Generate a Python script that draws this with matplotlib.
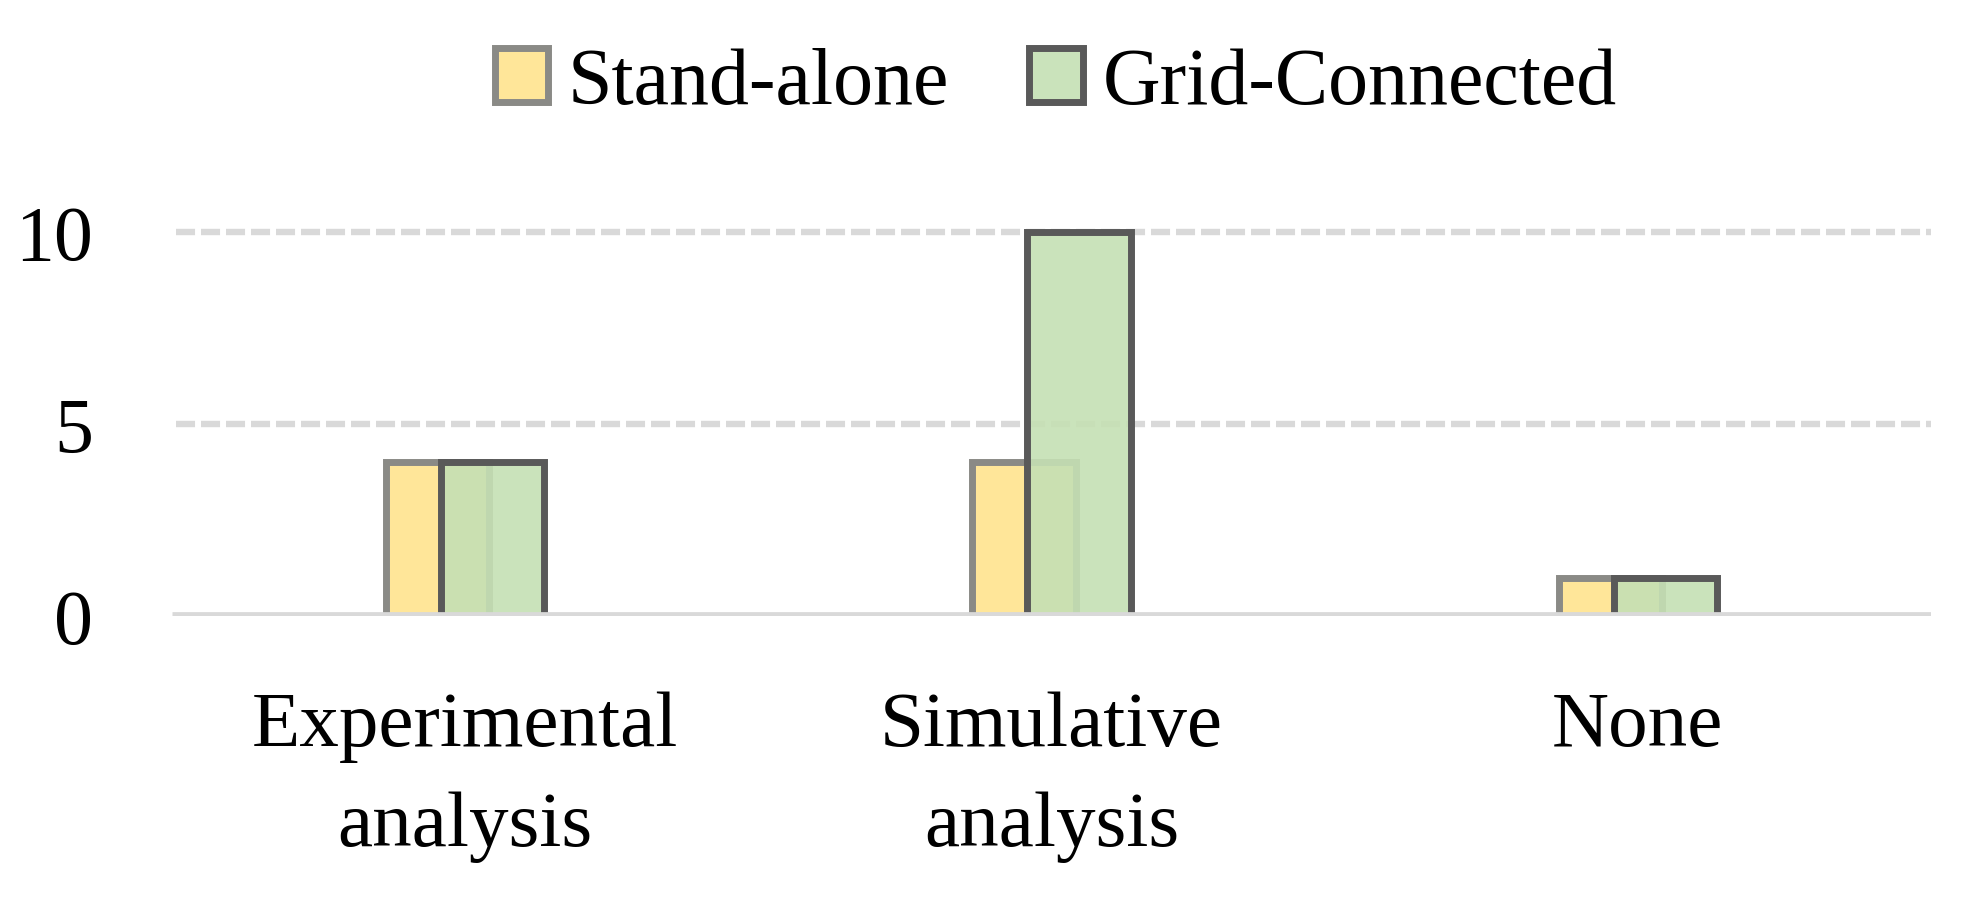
import matplotlib
matplotlib.use("Agg")
import matplotlib.pyplot as plt
import numpy as np

categories = ["Experimental\nanalysis", "Simulative\nanalysis", "None"]
series_names = ["Stand-alone", "Grid-Connected"]
stand_alone = [4, 4, 1]
grid_connected = [4, 10, 1]
y_ticks = [0, 5, 10]

plt.rcParams['font.family'] = ['Liberation Serif', 'DejaVu Serif']
plt.rcParams['lines.scale_dashes'] = False
FS = 56

fig = plt.figure(figsize=(19.77, 9.12), dpi=100)
ax = fig.add_axes([0.0870, 0.3235, 0.8897, 0.4631])

x = np.arange(len(categories))
w = 0.176
off = 0.047
lw = 5.0
yellow = '#FFE699'
green_rgba = (197/255, 224/255, 180/255, 0.9)

ax.bar(x - off, stand_alone, width=w, facecolor=yellow, edgecolor='#8a8a86',
       linewidth=lw, zorder=3, label=series_names[0])
ax.bar(x + off, grid_connected, width=w, facecolor=green_rgba, edgecolor='#595959',
       linewidth=lw, zorder=4, label=series_names[1])

for t in y_ticks[1:]:
    ax.axhline(t, color='#d9d9d9', linewidth=4.6, linestyle=(0, (13.7, 4.3)),
               xmin=4/1759, zorder=1)
ax.axhline(0, color='#d9d9d9', linewidth=6.3, zorder=5, solid_capstyle='butt')

ax.set_xlim(-0.5, 2.5)
ax.set_ylim(0, 11)
ax.set_yticks(y_ticks)
ax.set_yticklabels([str(v) for v in y_ticks], fontsize=FS)
ax.set_xticks(x)
ax.set_xticklabels(categories, fontsize=57, linespacing=1.52)
ax.tick_params(axis='y', length=0, pad=57)
ax.tick_params(axis='x', length=0, pad=54)
for s in ax.spines.values():
    s.set_visible(False)

leg = fig.legend(loc='center', bbox_to_anchor=(0.534, 0.907), ncol=2, frameon=False,
                 fontsize=57.5, handlelength=0.67, handleheight=0.67,
                 handletextpad=0.25, columnspacing=1.0, borderpad=0, borderaxespad=0)

fig.savefig("out.png", dpi=100, facecolor='white')
